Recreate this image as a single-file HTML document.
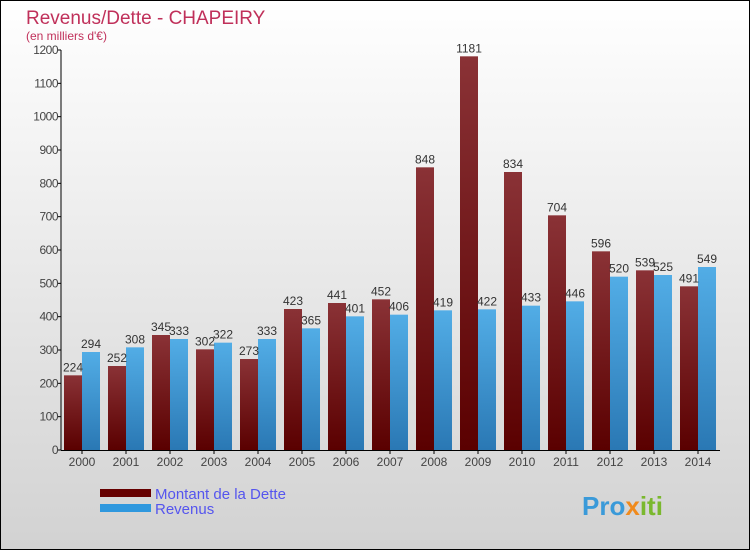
<!DOCTYPE html>
<html><head><meta charset="utf-8"><style>
html,body{margin:0;padding:0}
body{width:750px;height:550px;overflow:hidden;font-family:"Liberation Sans",sans-serif}
</style></head><body>
<svg width="750" height="550" xmlns="http://www.w3.org/2000/svg">
<defs>
<linearGradient id="bg" x1="0" y1="0" x2="0" y2="1"><stop offset="0" stop-color="#ffffff"/><stop offset="1" stop-color="#d2d2d2"/></linearGradient>
<linearGradient id="gd" x1="0" y1="0" x2="0" y2="1"><stop offset="0" stop-color="#8a3236"/><stop offset="1" stop-color="#5a0000"/></linearGradient>
<linearGradient id="gr" x1="0" y1="0" x2="0" y2="1"><stop offset="0" stop-color="#52ade6"/><stop offset="1" stop-color="#2a78b4"/></linearGradient>
</defs>
<rect x="0.5" y="0.5" width="749" height="549" fill="url(#bg)" stroke="#000"/>
<text x="26" y="24" font-size="19" fill="#c0305a">Revenus/Dette - CHAPEIRY</text>
<text x="26" y="40" font-size="12" fill="#c0305a">(en milliers d'€)</text>
<g id="axes"></g>
<g id="bars"></g>
<g>
<rect x="100" y="489" width="51" height="8" fill="#660000"/>
<text x="155" y="499" font-size="15" fill="#5555ee">Montant de la Dette</text>
<rect x="100" y="504" width="51" height="8" fill="#2f98de"/>
<text x="155" y="514" font-size="15" fill="#5555ee">Revenus</text>
</g>
<text x="582" y="515" font-size="26" font-weight="bold" fill="#3a9ad9">Pro<tspan fill="#f08a1c">x</tspan><tspan fill="#7ab82e">iti</tspan></text>
</svg>
<script>
const years=["2000","2001","2002","2003","2004","2005","2006","2007","2008","2009","2010","2011","2012","2013","2014"];
const dette=[224,252,345,302,273,423,441,452,848,1181,834,704,596,539,491];
const revenus=[294,308,333,322,333,365,401,406,419,422,433,446,520,525,549];
const ticks=[0,100,200,300,400,500,600,700,800,900,1000,1100,1200];
const NS="http://www.w3.org/2000/svg";
const y0=450,yTop=50,vmax=1200;
const yS=v=>y0-(v/vmax)*(y0-yTop);
const xC=i=>82+i*44;
function mk(t,a,parent){const e=document.createElementNS(NS,t);for(const k in a)e.setAttribute(k,a[k]);parent.appendChild(e);return e;}
const ax=document.getElementById('axes'),bg=document.getElementById('bars');
let l=mk('line',{x1:61,y1:yTop,x2:61,y2:y0,stroke:'#000'},ax);


l=mk('line',{x1:61,y1:y0+0.5,x2:720,y2:y0+0.5,stroke:'#000'},ax);


ticks.forEach(t=>{
 const y=yS(t);
 const tk=mk('line',{x1:57,y1:y,x2:61,y2:y,stroke:'#000'},ax);
 
 
 const tx=mk('text',{x:58,y:y+4,'font-size':12,'text-anchor':'end',fill:'#444','letter-spacing':'-0.5'},ax);
 tx.textContent=t;
 
 
});
years.forEach((yr,i)=>{
 const c=xC(i);
 const tk=mk('line',{x1:c,y1:y0,x2:c,y2:y0+4,stroke:'#000'},ax);
 
 
 const tx=mk('text',{x:c,y:y0+16,'font-size':12,'text-anchor':'middle',fill:'#444'},ax);
 tx.textContent=yr;
 
 
 const d=mk('rect',{x:c-18,y:yS(dette[i]),width:18,height:y0-yS(dette[i]),fill:'url(#gd)'},bg);
 
 
 const r=mk('rect',{x:c,y:yS(revenus[i]),width:18,height:y0-yS(revenus[i]),fill:'url(#gr)'},bg);
 
 
 const dl=mk('text',{x:c-9,y:yS(dette[i])-4,'font-size':12,'text-anchor':'middle',fill:'#333'},bg);
 dl.textContent=dette[i];
 
 
 const rl=mk('text',{x:c+9,y:yS(revenus[i])-4,'font-size':12,'text-anchor':'middle',fill:'#333'},bg);
 rl.textContent=revenus[i];
 
 
});
</script>
</body></html>
